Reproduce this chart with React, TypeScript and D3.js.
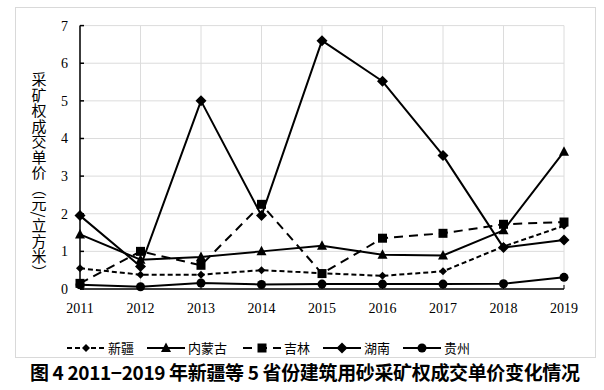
import React from "react";
import * as d3 from "d3";

const years = ["2011", "2012", "2013", "2014", "2015", "2016", "2017", "2018", "2019"];
const xinjiang = [0.55, 0.38, 0.38, 0.5, 0.42, 0.35, 0.47, 1.13, 1.68];
const neimenggu = [1.45, 0.78, 0.85, 1.0, 1.15, 0.91, 0.89, 1.56, 3.65];
const jilin = [0.15, 1.0, 0.63, 2.25, 0.41, 1.35, 1.48, 1.72, 1.78];
const hunan = [1.95, 0.6, 5.0, 1.95, 6.6, 5.52, 3.55, 1.1, 1.3];
const guizhou = [0.11, 0.06, 0.16, 0.12, 0.13, 0.13, 0.13, 0.14, 0.31];
const seriesNames = ["新疆", "内蒙古", "吉林", "湖南", "贵州"];
const yTicks = [0, 1, 2, 3, 4, 5, 6, 7];
const yTitle = "采矿权成交单价（元/立方米）";
const caption = "图 4 2011−2019 年新疆等 5 省份建筑用砂采矿权成交单价变化情况";

type Marker = "diamondS" | "triangle" | "square" | "diamond" | "circle";
const seriesData = [xinjiang, neimenggu, jilin, hunan, guizhou];
const styles: { dash: string; marker: Marker; width: number }[] = [
  { dash: "5,3", marker: "diamondS", width: 2 },
  { dash: "", marker: "triangle", width: 2 },
  { dash: "9,6", marker: "square", width: 2 },
  { dash: "", marker: "diamond", width: 2 },
  { dash: "", marker: "circle", width: 2 },
];

function MarkerShape({ type, x, y }: { type: Marker; x: number; y: number }) {
  switch (type) {
    case "diamondS":
      return <path d={`M${x},${y - 4}L${x + 4},${y}L${x},${y + 4}L${x - 4},${y}Z`} fill="#000" />;
    case "diamond":
      return <path d={`M${x},${y - 5.5}L${x + 5.5},${y}L${x},${y + 5.5}L${x - 5.5},${y}Z`} fill="#000" />;
    case "triangle":
      return <path d={`M${x},${y - 5.5}L${x + 5},${y + 4}L${x - 5},${y + 4}Z`} fill="#000" />;
    case "square":
      return <rect x={x - 4.5} y={y - 4.5} width={9} height={9} fill="#000" />;
    case "circle":
      return <circle cx={x} cy={y} r={4.5} fill="#000" />;
  }
}

export default function App() {
  const W = 604, H = 390;
  const x = d3.scalePoint<string>().domain(years).range([80, 564]);
  const y = d3.scaleLinear().domain([0, 7]).range([289, 25.6]);
  const line = d3
    .line<number>()
    .x((_, i) => x(years[i])!)
    .y((d) => y(d));
  const serif = "'Liberation Serif', 'DejaVu Serif', serif";
  const cjk = "'Noto Sans CJK SC', sans-serif";
  const legendX = [67, 147, 243, 323, 403];
  const legendY = 348;

  return (
    <svg width={W} height={H} style={{ position: "absolute", left: 0, top: 0, background: "#fff" }}>
      <rect x={15.5} y={7.5} width={580} height={350} fill="#fff" stroke="#d9d9d9" strokeWidth={1} />
      {yTicks.map((t) => (
        <line key={"gy" + t} x1={80} x2={564} y1={y(t)} y2={y(t)} stroke="#dcdcdc" strokeWidth={1} />
      ))}
      {years.map((yr) => (
        <line key={"gx" + yr} x1={x(yr)} x2={x(yr)} y1={y(7)} y2={y(0)} stroke="#dcdcdc" strokeWidth={1} />
      ))}
      <line x1={80} x2={80} y1={y(7)} y2={y(0)} stroke="#000" strokeWidth={1.5} />
      <line x1={80} x2={564} y1={y(0)} y2={y(0)} stroke="#000" strokeWidth={1.5} />
      {yTicks.map((t) => (
        <line key={"ty" + t} x1={80} x2={84} y1={y(t)} y2={y(t)} stroke="#000" strokeWidth={1.5} />
      ))}
      {years.map((yr) => (
        <line key={"tx" + yr} x1={x(yr)} x2={x(yr)} y1={y(0)} y2={y(0) - 4} stroke="#000" strokeWidth={1} />
      ))}
      {yTicks.map((t) => (
        <text key={"ly" + t} x={68} y={y(t) + 5} textAnchor="end" fontFamily={serif} fontSize={14} fill="#000">
          {t}
        </text>
      ))}
      {years.map((yr) => (
        <text key={"lx" + yr} x={x(yr)} y={313} textAnchor="middle" fontFamily={serif} fontSize={14} fill="#000">
          {yr}
        </text>
      ))}
      <text
        x={39}
        y={72}
        fontFamily={cjk}
        fontSize={15}
        fill="#000"
        style={{ writingMode: "vertical-rl" as any }}
        letterSpacing={0.5}
      >
        {yTitle}
      </text>
      {seriesData.map((data, si) => (
        <g key={"s" + si}>
          <path
            d={line(data)!}
            fill="none"
            stroke="#000"
            strokeWidth={styles[si].width}
            strokeDasharray={styles[si].dash || undefined}
            strokeLinejoin="round"
          />
          {data.map((v, i) => (
            <MarkerShape key={i} type={styles[si].marker} x={x(years[i])!} y={y(v)} />
          ))}
        </g>
      ))}
      {seriesNames.map((name, si) => (
        <g key={"lg" + si}>
          <line
            x1={legendX[si]}
            x2={legendX[si] + 38}
            y1={legendY}
            y2={legendY}
            stroke="#000"
            strokeWidth={2}
            strokeDasharray={styles[si].dash || undefined}
          />
          <MarkerShape type={styles[si].marker} x={legendX[si] + 19} y={legendY} />
          <text x={legendX[si] + 41} y={legendY + 5} fontFamily={cjk} fontSize={13} fill="#000">
            {name}
          </text>
        </g>
      ))}
      <text x={30} y={380} fontFamily={cjk} fontSize={19} fontWeight="bold" fill="#000" textLength={550}>
        {caption}
      </text>
    </svg>
  );
}
